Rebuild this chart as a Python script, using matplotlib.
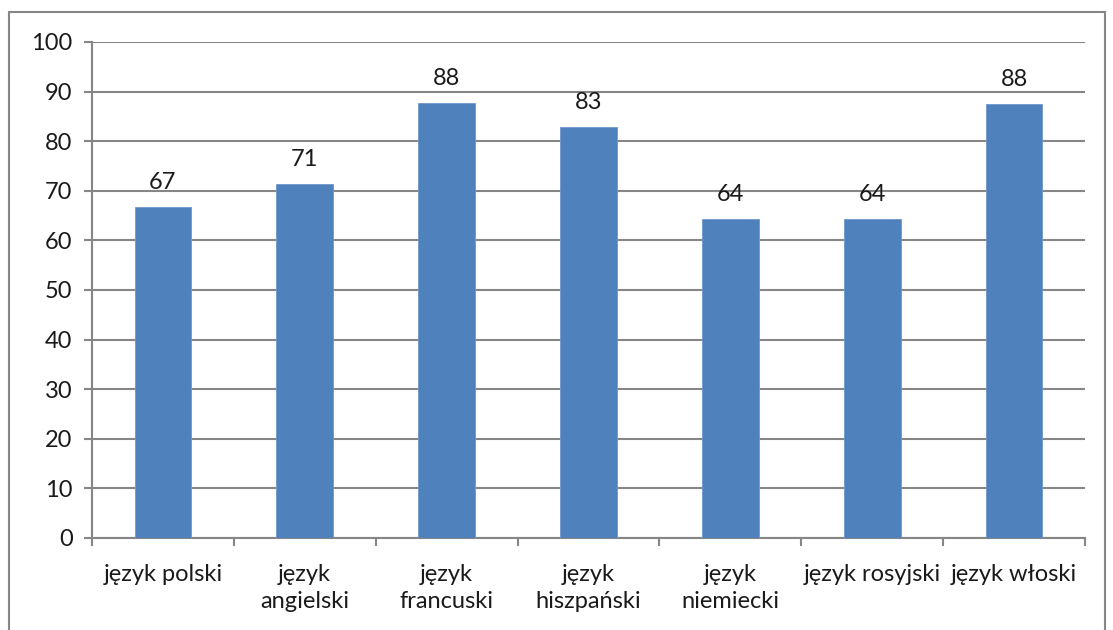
import numpy as np
import matplotlib
matplotlib.use('Agg')
import matplotlib.pyplot as plt
from matplotlib.patches import Rectangle

categories = ['język polski', 'język\nangielski', 'język\nfrancuski', 'język\nhiszpański',
              'język\nniemiecki', 'język rosyjski', 'język włoski']
values = [66.7, 71.3, 87.8, 82.9, 64.3, 64.3, 87.6]
labels = ['67', '71', '88', '83', '64', '64', '88']
yticks = [0, 10, 20, 30, 40, 50, 60, 70, 80, 90, 100]

plt.rcParams['font.family'] = ['Lato', 'DejaVu Sans']
gray = '#868686'
bar_color = '#4F81BD'
fs = 17

fig = plt.figure(figsize=(11.13, 6.3), dpi=100)
ax = fig.add_axes([92/1113, 92/630, (1085-92)/1113, (538-42)/630])

x = np.arange(len(categories))
ax.bar(x, values, width=0.4, color=bar_color, edgecolor='#6f97cc', linewidth=0.6, zorder=3)

for xi, v, lab in zip(x, values, labels):
    ax.annotate(lab, (xi, v), xytext=(0, 10), textcoords='offset points',
                ha='center', va='bottom', fontsize=fs, color='#1a1a1a')

ax.set_xlim(-0.5, len(categories) - 0.5)
ax.set_ylim(0, 100)
ax.set_yticks(yticks)
ax.yaxis.grid(True, color=gray, linewidth=1.5, zorder=0)
ax.set_axisbelow(True)

ax.set_xticks(x)
ax.set_xticklabels(categories, fontsize=fs, linespacing=1.35, color='#1a1a1a')
ax.set_xticks(np.arange(-0.5, len(categories)), minor=True)
ax.tick_params(axis='x', which='major', length=0, pad=19)
ax.tick_params(axis='x', which='minor', length=6, width=1.5, color=gray, direction='out')
ax.tick_params(axis='y', length=6, width=1.5, color=gray, labelsize=fs,
               labelcolor='#1a1a1a', pad=8)

for s in ['top', 'right']:
    ax.spines[s].set_visible(False)
for s in ['left', 'bottom']:
    ax.spines[s].set_color(gray)
    ax.spines[s].set_linewidth(1.5)

# outer chart border
fig.patches.append(Rectangle((9/1113, -10/630), (1105-9)/1113, (618+10)/630,
                             transform=fig.transFigure, fill=False,
                             edgecolor=gray, linewidth=1.5))

plt.savefig('out.png', dpi=100)
